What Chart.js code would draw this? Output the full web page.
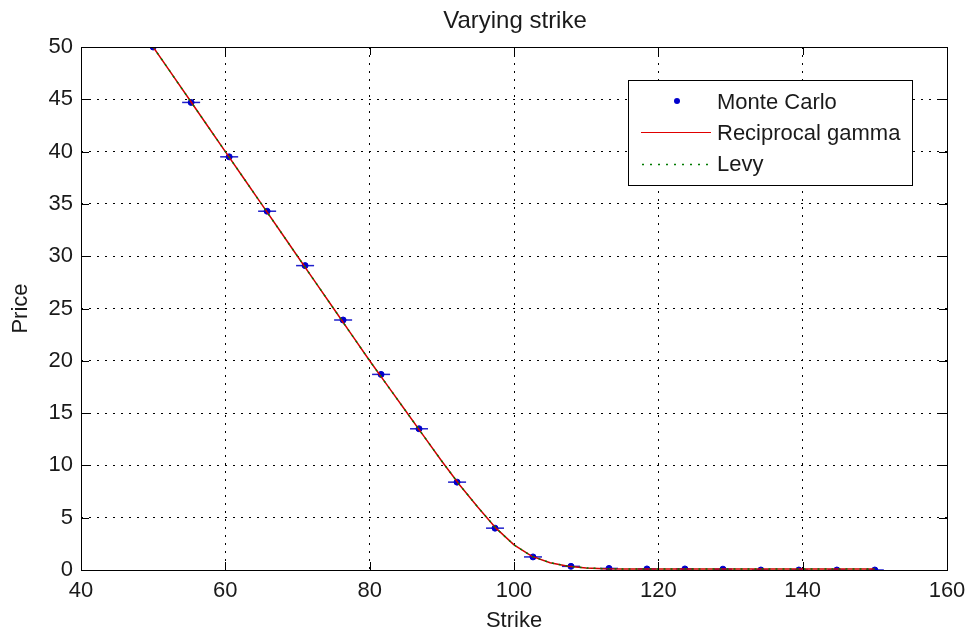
<!DOCTYPE html>
<html>
<head>
<meta charset="utf-8">
<script src="https://cdn.jsdelivr.net/npm/chart.js@4/dist/chart.umd.min.js"></script>
<style>
  html, body { margin: 0; padding: 0; background: #fff; }
  #wrap { width: 967px; height: 630px; }
</style>
</head>
<body>
<div id="wrap"><canvas id="strikeChart"></canvas></div>
<script>
// Monte Carlo estimates (linspace 50..150, 20 strikes)
const mcStrikes = [50, 55.26, 60.53, 65.79, 71.05, 76.32, 81.58, 86.84, 92.11, 97.37,
                   102.63, 107.89, 113.16, 118.42, 123.68, 128.95, 134.21, 139.47, 144.74, 150];
const mcPrices = [50, 44.7, 39.5, 34.3, 29.1, 23.9, 18.7, 13.5, 8.4, 4.0,
                  1.25, 0.35, 0.15, 0.1, 0.1, 0.08, 0, 0, 0, 0];

// analytic approximations
const curveStrikes = [50, 52.5, 55, 57.5, 60, 62.5, 65, 67.5, 70, 72.5, 75, 77.5, 80, 82.5, 85,
                      87.5, 90, 92.5, 95, 97.5, 100, 102.5, 105, 107.5, 110, 112.5, 115, 117.5,
                      120, 125, 130, 135, 140, 145, 150];
const gammaPrices = [50, 47.5, 45, 42.5, 40, 37.5, 35, 32.5, 30, 27.5, 25, 22.5, 20, 17.6, 15.2,
                     12.8, 10.4, 8.1, 6.0, 4.0, 2.4, 1.3, 0.7, 0.35, 0.2, 0.12, 0.1, 0.1,
                     0.1, 0.1, 0.1, 0.1, 0.1, 0.1, 0.1];
const levyPrices = [50, 47.5, 45, 42.5, 40, 37.5, 35, 32.5, 30, 27.5, 25, 22.5, 20, 17.6, 15.2,
                    12.8, 10.4, 8.1, 6.0, 4.0, 2.4, 1.3, 0.7, 0.35, 0.2, 0.12, 0.1, 0.1,
                    0.1, 0.1, 0.1, 0.1, 0.1, 0.1, 0.1];

const xTicks = [40, 60, 80, 100, 120, 140, 160];
const yTicks = [0, 5, 10, 15, 20, 25, 30, 35, 40, 45, 50];

function pairs(xs, ys) {
    return xs.map((x, i) => ({ x: x, y: ys[i] }));
}

const FONT = 'Liberation Sans, Arial, sans-serif';
const TXT = '#1a1a1a';

// matlab-ish title, box, inward ticks and boxed legend
const matlabFrame = {
    id: 'matlabFrame',
    afterDraw(chart) {
        const ctx = chart.ctx;
        const a = chart.chartArea;
        const xs = chart.scales.x, ys = chart.scales.y;
        ctx.save();

        ctx.font = '24px ' + FONT;
        ctx.fillStyle = TXT;
        ctx.textAlign = 'center';
        ctx.textBaseline = 'alphabetic';
        ctx.fillText('Varying strike', (a.left + a.right) / 2 + 1, 28);
        ctx.textAlign = 'left';

        ctx.strokeStyle = '#000';
        ctx.lineWidth = 1;
        ctx.setLineDash([]);
        ctx.strokeRect(Math.round(a.left) + 0.5, Math.round(a.top) + 0.5,
                       Math.round(a.right - a.left), Math.round(a.bottom - a.top));
        ctx.beginPath();
        xTicks.forEach(v => {
            const px = Math.round(xs.getPixelForValue(v)) + 0.5;
            ctx.moveTo(px, a.bottom); ctx.lineTo(px, a.bottom - 8);
            ctx.moveTo(px, a.top); ctx.lineTo(px, a.top + 8);
        });
        yTicks.forEach(v => {
            const py = Math.round(ys.getPixelForValue(v)) + 0.5;
            ctx.moveTo(a.left, py); ctx.lineTo(a.left + 8, py);
            ctx.moveTo(a.right, py); ctx.lineTo(a.right - 8, py);
        });
        ctx.stroke();

        // legend box
        const lx = 628, ly = 80, lw = 284, lh = 105;
        ctx.fillStyle = '#fff';
        ctx.fillRect(lx, ly, lw, lh);
        ctx.strokeRect(lx + 0.5, ly + 0.5, lw, lh);
        ctx.font = '22px ' + FONT;
        ctx.fillStyle = TXT;
        ctx.fillText('Monte Carlo', 717, 109);
        ctx.fillText('Reciprocal gamma', 717, 140);
        ctx.fillText('Levy', 717, 171);
        ctx.fillStyle = '#0000cc';
        ctx.beginPath();
        ctx.arc(677, 101, 3, 0, Math.PI * 2);
        ctx.fill();
        ctx.strokeStyle = '#e00000';
        ctx.beginPath();
        ctx.moveTo(641, 132.5); ctx.lineTo(711, 132.5);
        ctx.stroke();
        ctx.strokeStyle = '#007a00';
        ctx.lineWidth = 1.5;
        ctx.setLineDash([2, 6]);
        ctx.beginPath();
        ctx.moveTo(642, 164.5); ctx.lineTo(712, 164.5);
        ctx.stroke();
        ctx.restore();
    }
};

const ctx = document.getElementById('strikeChart').getContext('2d');
const strikeChart = new Chart(ctx, {
    type: 'scatter',
    data: {
        datasets: [
            {
                label: 'Levy',
                data: pairs(curveStrikes, levyPrices),
                showLine: true,
                borderColor: '#007a00',
                borderWidth: 1.5,
                borderDash: [2, 5],
                pointRadius: 0,
                order: 0
            },
            {
                label: 'Reciprocal gamma',
                data: pairs(curveStrikes, gammaPrices),
                showLine: true,
                borderColor: '#d00000',
                borderWidth: 1.5,
                pointRadius: 0,
                order: 1
            },
            {
                label: 'Monte Carlo',
                data: pairs(mcStrikes, mcPrices),
                showLine: false,
                pointStyle: 'circle',
                pointRadius: 3,
                backgroundColor: '#0000cc',
                borderColor: '#0000cc',
                order: 2
            },
            {
                label: 'error bars',
                data: pairs(mcStrikes, mcPrices),
                showLine: false,
                pointStyle: 'line',
                pointRadius: 9,
                borderColor: '#2020cc',
                borderWidth: 1.5,
                order: 3
            }
        ]
    },
    options: {
        responsive: true,
        maintainAspectRatio: false,
        animation: false,
        layout: { padding: { left: 0, right: 20, top: 47, bottom: -4 } },
        scales: {
            x: {
                type: 'linear',
                min: 40,
                max: 160,
                afterFit(scale) {
                    scale.height = 64;
                    scale.paddingLeft = 0;
                    scale.paddingRight = 0;
                },
                afterBuildTicks(scale) { scale.ticks = xTicks.map(v => ({ value: v })); },
                ticks: { color: TXT, font: { family: FONT, size: 22 }, padding: 8 },
                grid: { color: '#000', lineWidth: 1, drawTicks: false },
                border: { display: false, dash: [2, 6] },
                title: { display: true, text: 'Strike', color: TXT, font: { family: FONT, size: 22 }, padding: { top: 0, bottom: 0 } }
            },
            y: {
                type: 'linear',
                min: 0,
                max: 50,
                afterFit(scale) {
                    scale.width = 81;
                    scale.paddingTop = 0;
                    scale.paddingBottom = 0;
                },
                afterBuildTicks(scale) { scale.ticks = yTicks.map(v => ({ value: v })); },
                ticks: { color: TXT, font: { family: FONT, size: 22 }, padding: 8 },
                grid: { color: '#000', lineWidth: 1, drawTicks: false },
                border: { display: false, dash: [2, 6] },
                title: { display: true, text: 'Price', color: TXT, font: { family: FONT, size: 22 }, padding: { top: 8, bottom: 0 } }
            }
        },
        plugins: {
            legend: { display: false },
            tooltip: { enabled: false },
            title: { display: false }
        }
    },
    plugins: [matlabFrame]
});
</script>
</body>
</html>
